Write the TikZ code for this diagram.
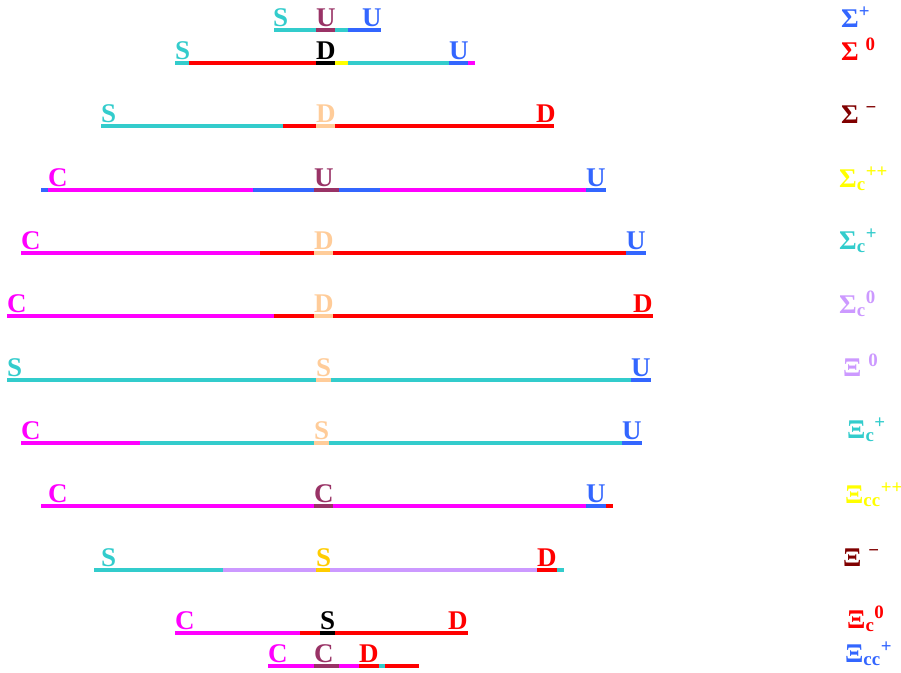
\documentclass[tikz,border=0pt]{standalone}
\usepackage{fontspec}
\setmainfont{Liberation Serif}
\definecolor{qcyan}{HTML}{33CCCC}
\definecolor{qplum}{HTML}{993366}
\definecolor{qblue}{HTML}{3366FF}
\definecolor{qred}{HTML}{FF0000}
\definecolor{qpink}{HTML}{FF00FF}
\definecolor{qpeach}{HTML}{FFCC99}
\definecolor{qyellow}{HTML}{FFFF00}
\definecolor{qgold}{HTML}{FFCC00}
\definecolor{qlilac}{HTML}{CC99FF}
\definecolor{qmaroon}{HTML}{800000}
\tikzset{
  bar/.style={line width=4pt},
  quark/.style={font=\bfseries\fontsize{27}{27}\selectfont, anchor=base west, inner sep=0pt},
  baryon/.style={quark}
}
\begin{document}
\begin{tikzpicture}[x=1pt,y=-1pt]
\useasboundingbox (0,0) rectangle (901,672);
% Sigma+
\foreach \xa/\xb/\col in {274/316/qcyan, 316/335/qplum, 335/348/qcyan, 348/381/qblue}
  \draw[bar,color=\col] (\xa,30) -- (\xb,30);
\foreach \xl/\q/\col [count=\i] in {273/S/qcyan, 316/U/qplum, 362/U/qblue}
  \node[quark,text=\col] (ra\i) at (\xl,26) {\q};
% Sigma0
\foreach \xa/\xb/\col in {175/189/qcyan, 189/316/qred, 316/335/black, 335/348/qyellow, 348/449/qcyan, 449/468/qblue, 468/475/qpink}
  \draw[bar,color=\col] (\xa,63) -- (\xb,63);
\foreach \xl/\q/\col [count=\i] in {175/S/qcyan, 316/D/black, 449/U/qblue}
  \node[quark,text=\col] (rb\i) at (\xl,59) {\q};
% Sigma-
\foreach \xa/\xb/\col in {101/283/qcyan, 283/316/qred, 316/335/qpeach, 335/554/qred}
  \draw[bar,color=\col] (\xa,126) -- (\xb,126);
\foreach \xl/\q/\col [count=\i] in {101/S/qcyan, 316/D/qpeach, 536/D/qred}
  \node[quark,text=\col] (rc\i) at (\xl,122) {\q};
% Sigma_c++
\foreach \xa/\xb/\col in {41/48/qblue, 48/253/qpink, 253/314/qblue, 314/339/qplum, 339/380/qblue, 380/586/qpink, 586/606/qblue}
  \draw[bar,color=\col] (\xa,190) -- (\xb,190);
\foreach \xl/\q/\col [count=\i] in {48/C/qpink, 314/U/qplum, 586/U/qblue}
  \node[quark,text=\col] (rd\i) at (\xl,186) {\q};
% Sigma_c+
\foreach \xa/\xb/\col in {21/260/qpink, 260/314/qred, 314/333/qpeach, 333/626/qred, 626/646/qblue}
  \draw[bar,color=\col] (\xa,253) -- (\xb,253);
\foreach \xl/\q/\col [count=\i] in {21/C/qpink, 314/D/qpeach, 626/U/qblue}
  \node[quark,text=\col] (re\i) at (\xl,249) {\q};
% Sigma_c0
\foreach \xa/\xb/\col in {7/274/qpink, 274/314/qred, 314/333/qpeach, 333/653/qred}
  \draw[bar,color=\col] (\xa,316) -- (\xb,316);
\foreach \xl/\q/\col [count=\i] in {7/C/qpink, 314/D/qpeach, 633/D/qred}
  \node[quark,text=\col] (rf\i) at (\xl,312) {\q};
% Xi0
\foreach \xa/\xb/\col in {7/316/qcyan, 316/331/qpeach, 331/631/qcyan, 631/651/qblue}
  \draw[bar,color=\col] (\xa,380) -- (\xb,380);
\foreach \xl/\q/\col [count=\i] in {7/S/qcyan, 316/S/qpeach, 631/U/qblue}
  \node[quark,text=\col] (rg\i) at (\xl,376) {\q};
% Xi_c+
\foreach \xa/\xb/\col in {21/140/qpink, 140/314/qcyan, 314/329/qpeach, 329/622/qcyan, 622/642/qblue}
  \draw[bar,color=\col] (\xa,443) -- (\xb,443);
\foreach \xl/\q/\col [count=\i] in {21/C/qpink, 314/S/qpeach, 622/U/qblue}
  \node[quark,text=\col] (rh\i) at (\xl,439) {\q};
% Xi_cc++
\foreach \xa/\xb/\col in {41/314/qpink, 314/333/qplum, 333/586/qpink, 586/606/qblue, 606/613/qred}
  \draw[bar,color=\col] (\xa,506) -- (\xb,506);
\foreach \xl/\q/\col [count=\i] in {48/C/qpink, 314/C/qplum, 586/U/qblue}
  \node[quark,text=\col] (ri\i) at (\xl,502) {\q};
% Xi-
\foreach \xa/\xb/\col in {94/223/qcyan, 223/316/qlilac, 316/330/qgold, 330/537/qlilac, 537/557/qred, 557/564/qcyan}
  \draw[bar,color=\col] (\xa,570) -- (\xb,570);
\foreach \xl/\q/\col [count=\i] in {101/S/qcyan, 316/S/qgold, 537/D/qred}
  \node[quark,text=\col] (rj\i) at (\xl,566) {\q};
% Xi_c0
\foreach \xa/\xb/\col in {175/300/qpink, 300/320/qred, 320/335/black, 335/468/qred}
  \draw[bar,color=\col] (\xa,633) -- (\xb,633);
\foreach \xl/\q/\col [count=\i] in {175/C/qpink, 320/S/black, 448/D/qred}
  \node[quark,text=\col] (rk\i) at (\xl,629) {\q};
% Xi_cc+
\foreach \xa/\xb/\col in {268/314/qpink, 314/339/qplum, 339/359/qpink, 359/379/qred, 379/385/qcyan, 385/419/qred}
  \draw[bar,color=\col] (\xa,666) -- (\xb,666);
\foreach \xl/\q/\col [count=\i] in {268/C/qpink, 314/C/qplum, 359/D/qred}
  \node[quark,text=\col] (rl\i) at (\xl,662) {\q};
% names on the right
\node[baryon,text=qblue]   (sigp)   at (841,27)  {Σ\textsuperscript{+}};
\node[baryon,text=qred]    (sigz)   at (841,60)  {Σ \textsuperscript{0}};
\node[baryon,text=qmaroon] (sigm)   at (841,123) {Σ \textsuperscript{−}};
\node[baryon,text=qyellow] (sigcpp) at (839,187) {Σ\textsubscript{c}\textsuperscript{++}};
\node[baryon,text=qcyan]   (sigcp)  at (839,249) {Σ\textsubscript{c}\textsuperscript{+}};
\node[baryon,text=qlilac]  (sigcz)  at (839,313) {Σ\textsubscript{c}\textsuperscript{0}};
\node[baryon,text=qlilac]  (xiz)    at (843,376) {Ξ \textsuperscript{0}};
\node[baryon,text=qcyan]   (xicp)   at (847,438) {Ξ\textsubscript{c}\textsuperscript{+}};
\node[baryon,text=qyellow] (xiccpp) at (845,503) {Ξ\textsubscript{cc}\textsuperscript{++}};
\node[baryon,text=qmaroon] (xim)    at (843,566) {Ξ \textsuperscript{−}};
\node[baryon,text=qred]    (xicz)   at (847,628) {Ξ\textsubscript{c}\textsuperscript{0}};
\node[baryon,text=qblue]   (xiccp)  at (845,662) {Ξ\textsubscript{cc}\textsuperscript{+}};
\end{tikzpicture}
\end{document}
